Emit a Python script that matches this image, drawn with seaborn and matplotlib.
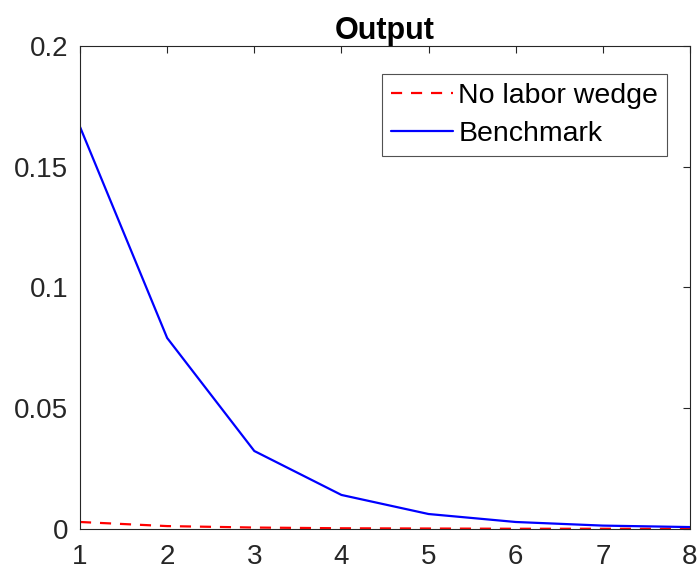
import matplotlib
matplotlib.use('Agg')
import matplotlib.pyplot as plt
import seaborn as sns
import pandas as pd

# data
periods = [1, 2, 3, 4, 5, 6, 7, 8]
benchmark = [0.1665, 0.0791, 0.0323, 0.0141, 0.0062, 0.0029, 0.0014, 0.0008]
no_labor_wedge = [0.0029, 0.0012, 0.0006, 0.0003, 0.0002, 0.0001, 0.0001, 0.0001]

sns.set_style('white')
plt.rcParams['font.family'] = ['Liberation Sans', 'DejaVu Sans']

fig = plt.figure(figsize=(7, 5.77), dpi=100)
ax = fig.add_axes([0.1143, 0.0832, 0.8714, 0.8371])

sns.lineplot(x=periods, y=no_labor_wedge, ax=ax, color='#ff0000',
             linestyle=(0, (5, 4)), linewidth=1.6, label='No labor wedge')
sns.lineplot(x=periods, y=benchmark, ax=ax, color='#0000ff',
             linewidth=1.6, label='Benchmark')

ax.set_xlim(1, 8)
ax.set_ylim(0, 0.2)
ax.set_xticks(periods)
ax.set_yticks([0, 0.05, 0.1, 0.15, 0.2])
ax.set_yticklabels(['0', '0.05', '0.1', '0.15', '0.2'])
ax.tick_params(direction='in', length=5, width=0.8, colors='#262626',
               labelsize=20, top=True, right=True, labelcolor='#262626')
ax.tick_params(axis='x', pad=11)
ax.tick_params(axis='y', pad=8.5)
for s in ax.spines.values():
    s.set_color('#262626')
    s.set_linewidth(0.8)

ax.set_title('Output', fontsize=22, fontweight='bold', pad=5, color='black')

leg = ax.legend(loc='upper right', bbox_to_anchor=(0.963, 0.943), fontsize=20.5,
                frameon=True, fancybox=False, edgecolor='#262626',
                handlelength=2.2, handletextpad=0.18, borderpad=0.32,
                labelspacing=0.42, borderaxespad=0, handleheight=0.7,
                labelcolor='black')
leg.get_frame().set_linewidth(0.8)

fig.savefig('out.png', dpi=100)
